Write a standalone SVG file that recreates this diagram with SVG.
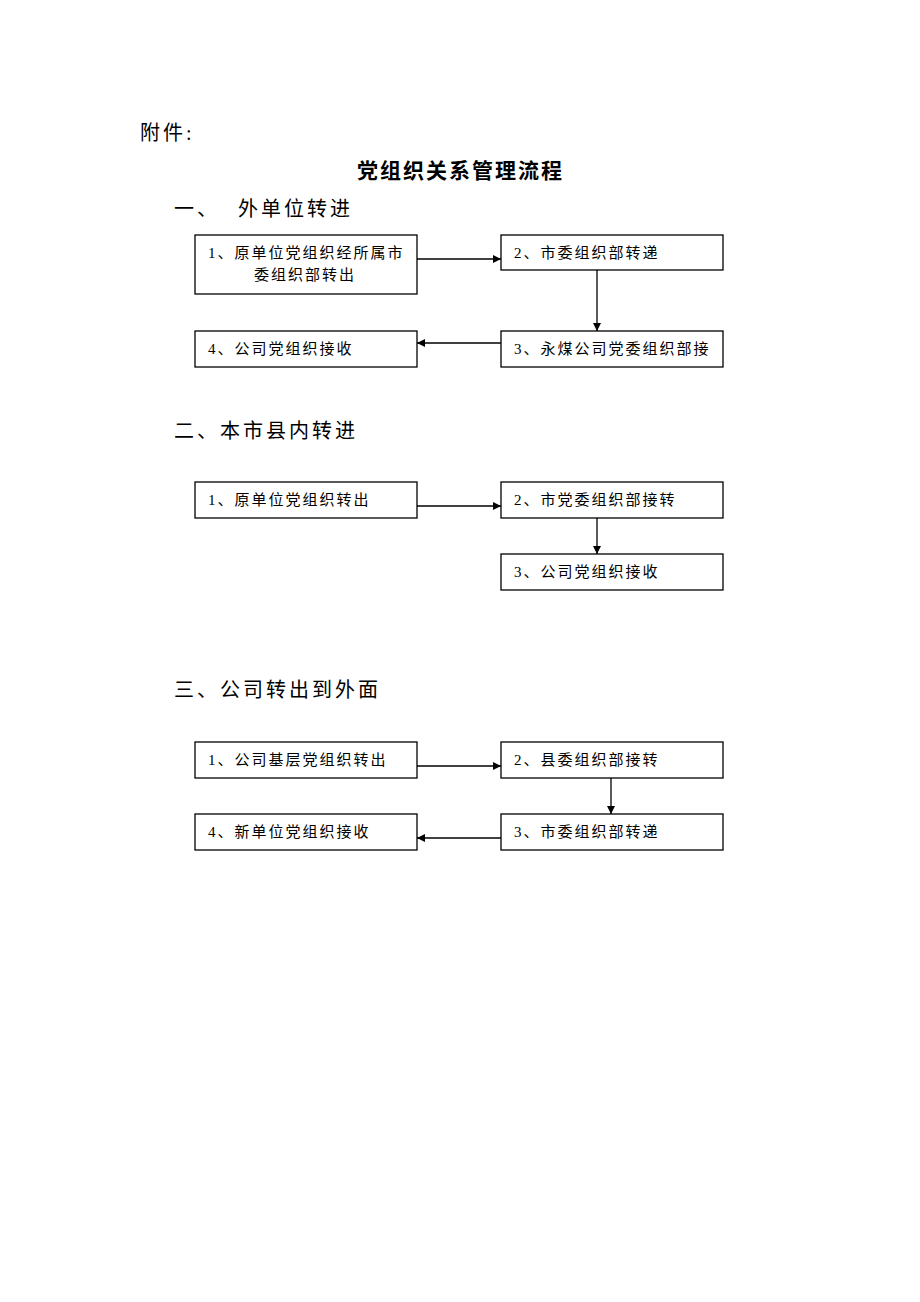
<svg xmlns="http://www.w3.org/2000/svg" width="920" height="1302" viewBox="0 0 920 1302">
<defs>
<marker id="ah" viewBox="0 0 10 10" refX="10" refY="5" markerWidth="8" markerHeight="8" markerUnits="userSpaceOnUse" orient="auto"><path d="M0,0 L10,5 L0,10 z" fill="#000"/></marker>
<style>
.bx{fill:#fff;stroke:#000;stroke-width:1.3}
.t{font-family:"Liberation Serif","Noto Sans CJK SC",serif;font-size:15px;letter-spacing:2px;fill:#000}
.h{font-family:"Liberation Serif","Noto Sans CJK SC",serif;font-size:20px;letter-spacing:3px;fill:#000}
.ti{font-family:"Liberation Serif","Noto Sans CJK SC",serif;font-size:21px;font-weight:bold;letter-spacing:2px;fill:#000}
.c{stroke:#000;stroke-width:1.3;fill:none;marker-end:url(#ah)}
</style>
</defs>
<rect width="920" height="1302" fill="#fff"/>
<text class="h" x="140" y="140">附件:</text>
<text class="ti" x="357" y="178">党组织关系管理流程</text>
<text class="h" x="174" y="216">一、</text>
<text class="h" x="238" y="216">外单位转进</text>
<text class="h" x="174" y="438">二、本市县内转进</text>
<text class="h" x="174" y="697">三、公司转出到外面</text>

<g id="s1n1"><rect class="bx" x="195" y="235" width="222" height="59"/><text class="t" x="208" y="258">1、原单位党组织经所属市</text><text class="t" x="254" y="280">委组织部转出</text></g>
<g id="s1n2"><rect class="bx" x="501" y="235" width="222" height="35"/><text class="t" x="514" y="258">2、市委组织部转递</text></g>
<g id="s1n3"><rect class="bx" x="501" y="331" width="222" height="36"/><text class="t" x="514" y="354">3、永煤公司党委组织部接</text></g>
<g id="s1n4"><rect class="bx" x="195" y="331" width="222" height="36"/><text class="t" x="208" y="354">4、公司党组织接收</text></g>

<g id="s2n1"><rect class="bx" x="195" y="482" width="222" height="36"/><text class="t" x="208" y="505">1、原单位党组织转出</text></g>
<g id="s2n2"><rect class="bx" x="501" y="482" width="222" height="36"/><text class="t" x="514" y="505">2、市党委组织部接转</text></g>
<g id="s2n3"><rect class="bx" x="501" y="554" width="222" height="36"/><text class="t" x="514" y="577">3、公司党组织接收</text></g>

<g id="s3n1"><rect class="bx" x="195" y="742" width="222" height="36"/><text class="t" x="208" y="765">1、公司基层党组织转出</text></g>
<g id="s3n2"><rect class="bx" x="501" y="742" width="222" height="36"/><text class="t" x="514" y="765">2、县委组织部接转</text></g>
<g id="s3n3"><rect class="bx" x="501" y="814" width="222" height="36"/><text class="t" x="514" y="837">3、市委组织部转递</text></g>
<g id="s3n4"><rect class="bx" x="195" y="814" width="222" height="36"/><text class="t" x="208" y="837">4、新单位党组织接收</text></g>

<g id="connectors">
<line class="c" x1="417" y1="259" x2="501" y2="259"/>
<line class="c" x1="597" y1="270" x2="597" y2="331"/>
<line class="c" x1="501" y1="343" x2="417" y2="343"/>
<line class="c" x1="417" y1="506" x2="501" y2="506"/>
<line class="c" x1="597" y1="518" x2="597" y2="554"/>
<line class="c" x1="417" y1="766" x2="501" y2="766"/>
<line class="c" x1="611" y1="778" x2="611" y2="814"/>
<line class="c" x1="501" y1="838" x2="417" y2="838"/>
</g>
</svg>
